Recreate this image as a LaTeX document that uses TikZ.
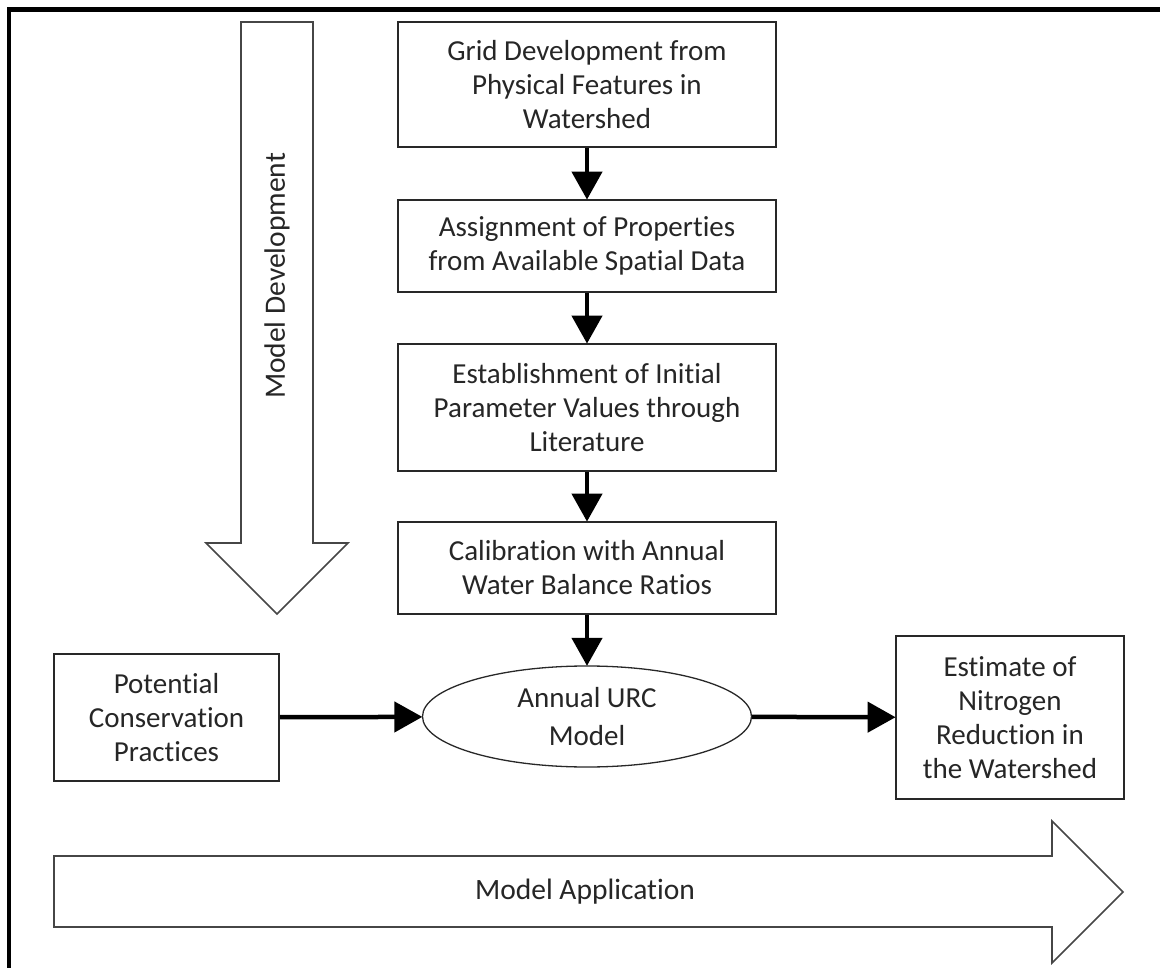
\documentclass[tikz,border=0pt]{standalone}
\usepackage{fontspec}
\setmainfont{Carlito}[Ligatures={NoCommon}]
\usetikzlibrary{arrows.meta,shapes.geometric}
\definecolor{txt}{RGB}{38,38,38}
\definecolor{edge}{RGB}{40,40,40}
\definecolor{bigedge}{RGB}{70,70,70}
\tikzset{
  stepbox/.style={draw=edge,line width=1.8pt,align=center,text=txt,inner sep=0pt,
    font=\fontsize{29}{34}\selectfont},
  oval/.style={ellipse,draw=edge,line width=1.3pt,align=center,text=txt,inner sep=0pt,
    font=\fontsize{29}{38}\selectfont},
  flow/.style={line width=4.5pt,-{Triangle[length=28pt,width=30pt]},shorten >=-0.5pt},
  bigarrow/.style={draw=bigedge,line width=1.6pt,fill=white,line join=miter},
  biglabel/.style={text=txt,font=\fontsize{29.5}{34}\selectfont,inner sep=0pt},
}
\begin{document}
\begin{tikzpicture}[x=1pt,y=-1pt]
\useasboundingbox (0,0) rectangle (1160,968);
\fill[white] (0,0) rectangle (1160,968);
% outer frame (right and bottom edges lie beyond the picture)
\draw[line width=4.5pt] (9,980) -- (9,9.5) -- (1175,9.5);

% Model Development block arrow
\draw[bigarrow] (241,22) -- (313,22) -- (313,543) -- (348,543) -- (277,614) -- (206,543) -- (241,543) -- cycle;
\node[biglabel,rotate=90] (dev) at (277,276) {Model Development};

% Model Application block arrow
\draw[bigarrow] (54,856) -- (1052,856) -- (1052,821) -- (1123,892) -- (1052,963) -- (1052,927) -- (54,927) -- cycle;
\node[biglabel] (app) at (585,892) {Model Application};

% flow boxes
\node[stepbox,minimum width=378pt,minimum height=125pt] (b1) at (587,84.5)
  {Grid Development from\\Physical Features in\\Watershed};
\node[stepbox,minimum width=378pt,minimum height=92pt] (b2) at (587,246)
  {Assignment of Properties\\from Available Spatial Data};
\node[stepbox,minimum width=378pt,minimum height=127pt] (b3) at (587,407.5)
  {Establishment of Initial\\Parameter Values through\\Literature};
\node[stepbox,minimum width=378pt,minimum height=92pt] (b4) at (587,568)
  {Calibration with Annual\\Water Balance Ratios};
\node[oval,minimum width=329pt,minimum height=101pt] (urc) at (587,716.5)
  {Annual URC\\Model};
\node[stepbox,minimum width=225pt,minimum height=127pt] (pcp) at (166.5,717.5)
  {Potential\\Conservation\\Practices};
\node[stepbox,minimum width=228pt,minimum height=163pt] (est) at (1010,717.5)
  {Estimate of\\Nitrogen\\Reduction in\\the Watershed};

% connectors
\draw[flow] (b1) -- (b2);
\draw[flow] (b2) -- (b3);
\draw[flow] (b3) -- (b4);
\draw[flow] (b4) -- (urc);
\draw[flow] (pcp) -- (urc);
\draw[flow] (urc) -- (est);
\end{tikzpicture}
\end{document}
